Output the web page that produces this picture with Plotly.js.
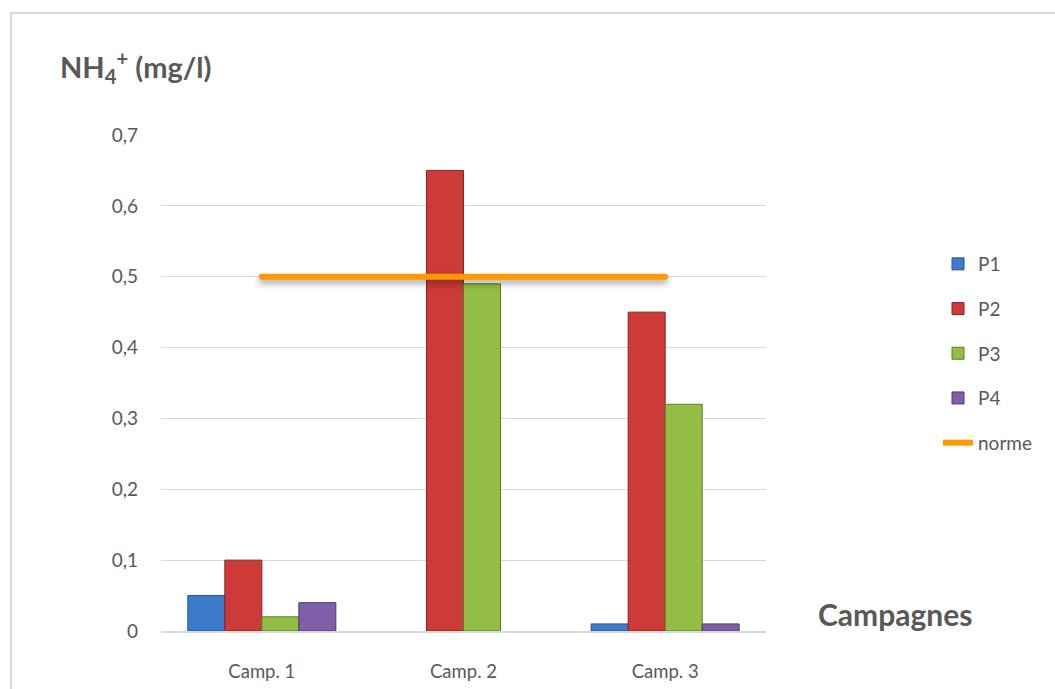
<!DOCTYPE html>
<html>
<head>
<meta charset="utf-8">
<script src="https://cdn.plot.ly/plotly-3.0.1.min.js"></script>
<style>
  html, body { margin: 0; padding: 0; background: #ffffff; overflow: hidden; }
  #chart { width: 1055px; height: 689px; position: absolute; left: 0; top: 0; }
  #frame { position: absolute; left: 10px; top: 12px; width: 1200px; height: 900px;
           border: 2px solid #d9d9d9; pointer-events: none; box-sizing: border-box; }
</style>
</head>
<body>
<div id="chart"></div>
<div id="frame"></div>
<script>
const categories = ['Camp. 1', 'Camp. 2', 'Camp. 3'];
const seriesNames = ['P1', 'P2', 'P3', 'P4'];
const P1 = [0.05, 0, 0.01];
const P2 = [0.10, 0.65, 0.45];
const P3 = [0.02, 0.49, 0.32];
const P4 = [0.04, 0, 0.01];
const norme = [0.5, 0.5, 0.5];
const yTicks = [0, 0.1, 0.2, 0.3, 0.4, 0.5, 0.6, 0.7];

const fills = ['#3d7ccc', '#cc3b37', '#94bd45', '#7e5fa8'];
const edges = ['#24538d', '#8a2422', '#5f7c28', '#4f3a72'];
const values = [P1, P2, P3, P4];

const FONT = 'Lato, "Open Sans", sans-serif';
const GREY = '#595959';

const traces = values.map((v, i) => ({
  type: 'bar',
  name: seriesNames[i],
  x: categories,
  y: v,
  legendgroup: 'g' + i,
  marker: {
    color: fills[i],
    line: { color: edges[i], width: v.map(val => (val === 0 ? 0 : 1)) }
  },
  hoverinfo: 'x+y+name'
}));

traces.push({
  type: 'scatter',
  mode: 'lines',
  name: 'norme',
  x: categories,
  y: norme,
  legendgroup: 'g4',
  line: { color: '#ff9900', width: 6 },
  hoverinfo: 'x+y+name'
});

const layout = {
  width: 1055,
  height: 689,
  margin: { l: 161, r: 289, t: 135, b: 58, pad: 0 },
  paper_bgcolor: '#ffffff',
  plot_bgcolor: '#ffffff',
  separators: ', ',
  font: { family: FONT, color: GREY, size: 19 },
  barmode: 'group',
  bargap: 0.266,
  bargroupgap: 0,
  title: {
    text: 'NH<sub>4</sub><sup>+</sup> (mg/l)',
    font: { family: FONT, size: 29, color: GREY, weight: 'bold' },
    xref: 'container', yref: 'container',
    x: 60 / 1055, xanchor: 'left',
    y: 1 - 68 / 689, yanchor: 'middle'
  },
  xaxis: {
    type: 'category',
    showgrid: false,
    showline: true,
    linecolor: '#d9d9d9',
    linewidth: 2,
    ticks: '',
    ticklabelstandoff: 23,
    tickfont: { family: FONT, size: 18.5, color: GREY },
    zeroline: false,
    fixedrange: true
  },
  yaxis: {
    range: [0, 0.7],
    tickvals: yTicks,
    tickformat: '.1~f',
    showgrid: true,
    gridcolor: '#d9d9d9',
    gridwidth: 1,
    zeroline: false,
    showline: false,
    ticks: '',
    ticklabelstandoff: 22,
    tickfont: { family: FONT, size: 19, color: GREY },
    fixedrange: true
  },
  showlegend: true,
  legend: {
    x: 1 + (938 - 766) / 605,
    xanchor: 'left',
    y: (631 - 245) / 496,
    yanchor: 'top',
    traceorder: 'grouped',
    tracegroupgap: 17,
    font: { family: FONT, size: 19, color: GREY },
    bgcolor: 'rgba(0,0,0,0)'
  },
  annotations: [{
    text: '<b>Campagnes</b>',
    xref: 'paper', yref: 'paper',
    x: 1 + (816 - 766) / 605, xanchor: 'left',
    y: (631 - 614) / 496, yanchor: 'middle',
    showarrow: false,
    font: { family: FONT, size: 30, color: GREY }
  }]
};

Plotly.newPlot('chart', traces, layout, { displayModeBar: false, staticPlot: true }).then(() => {
  document.querySelectorAll('.scatterlayer .js-line').forEach(p => {
    p.style.filter = 'drop-shadow(0px 4px 3px rgba(0,0,0,0.35))';
    p.style.strokeLinecap = 'round';
  });
});
</script>
</body>
</html>
